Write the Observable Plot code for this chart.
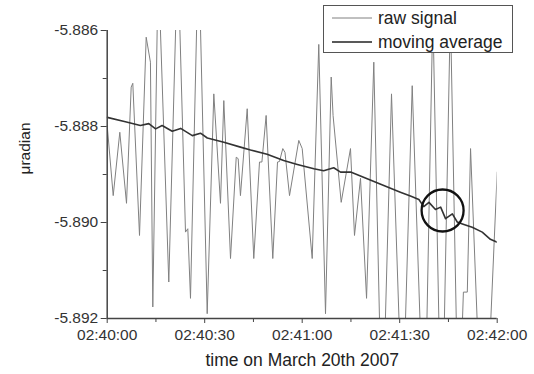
<!DOCTYPE html>
<html>
<head>
<meta charset="utf-8">
<script src="https://cdn.jsdelivr.net/npm/d3@7"></script>
<script src="https://cdn.jsdelivr.net/npm/@observablehq/plot@0.6"></script>
<style>
  body { margin: 0; background: white; }
  #wrap { position: relative; width: 534px; height: 374px; font-family: 'Liberation Sans', Arial, sans-serif; }
  #legend { position: absolute; left: 323px; top: 5px; width: 190px; height: 48px; box-sizing: border-box;
            border: 1px solid #555; background: white; font-size: 17.5px; color: #222; }
  .row { position: absolute; left: 0; height: 24px; display: flex; align-items: center; white-space: nowrap; }
  .row svg { margin-left: 8px; margin-right: 6px; }
</style>
</head>
<body>
<div id="wrap"></div>
<script>
// seconds after 02:40:00
const rawTime = [0,1.85,3.88,5.94,7.38,7.88,9.94,12.0,13.3,14.03,15.7,18.95,21.7,24.09,24.8,25.63,28.1,30.77,32.8,34.86,35.88,37.94,39.7,40.3,41.0,43.08,45.1,46.86,47.6,48.9,50.95,52.4,53.0,54.03,54.7,56.1,58.95,60.0,63.08,65.1,67.17,68.92,69.5,72.0,74.86,76.09,77.94,79.8,82.03,84.6,87.48,90.86,93.85,97.6,100.2,102.9,105.6,108.1,109.6,110.8,111.8,115.8,120.0];
const rawValue = [-5.88798,-5.88944,-5.88812,-5.88960,-5.88718,-5.88710,-5.89027,-5.88614,-5.88666,-5.89176,-5.8846,-5.89124,-5.88435,-5.8902,-5.89013,-5.89158,-5.8842,-5.8919,-5.88732,-5.8896,-5.88746,-5.89075,-5.88864,-5.88867,-5.88944,-5.88763,-5.89075,-5.88874,-5.88874,-5.88777,-5.89075,-5.88874,-5.88873,-5.88846,-5.88854,-5.88944,-5.88829,-5.88846,-5.89075,-5.88629,-5.8919,-5.88697,-5.88777,-5.88958,-5.88846,-5.89027,-5.88908,-5.89158,-5.88666,-5.8945,-5.88732,-5.8942,-5.88715,-5.8948,-5.8856,-5.8950,-5.8856,-5.8945,-5.89145,-5.89145,-5.88846,-5.8955,-5.88895];

const maTime = [0,5.6,10.2,12.8,14.9,16.9,20.0,22.6,26.2,28.7,30.8,35.9,41.0,44.1,49.2,54.3,58.5,63.6,66.6,69.7,71.8,74.9,80.0,85.1,90.2,93.3,95.9,97.4,99.0,101.0,102.6,104.1,106.2,107.7,109.3,112.3,115.4,117.9,120.0];
const maValue = [-5.88781,-5.88790,-5.88798,-5.88794,-5.88805,-5.88798,-5.88810,-5.88804,-5.88819,-5.88814,-5.88824,-5.88833,-5.88843,-5.88849,-5.88858,-5.88871,-5.88879,-5.88888,-5.88892,-5.88886,-5.88895,-5.88895,-5.88909,-5.88923,-5.88937,-5.88945,-5.88952,-5.88967,-5.88958,-5.88973,-5.88968,-5.88992,-5.88982,-5.88999,-5.89003,-5.89010,-5.89020,-5.89035,-5.89041];

const circleTime = [103.2];
const circleValue = [-5.88975];

const xMajor = [0, 30, 60, 90, 120];
const xLabels = ["02:40:00", "02:40:30", "02:41:00", "02:41:30", "02:42:00"];
const xMinor = [15, 45, 75, 105];
const yMajor = [-5.892, -5.890, -5.888, -5.886];
const yLabels = ["-5.892", "-5.890", "-5.888", "-5.886"];
const yMinor = [-5.891, -5.889, -5.887];

const xTitle = "time on March 20th 2007";
const yTitle = "\u03bcradian";
const seriesNames = ["raw signal", "moving average"];

const raw = rawTime.map((t, i) => ({t, v: rawValue[i]}));
const ma = maTime.map((t, i) => ({t, v: maValue[i]}));
const circ = circleTime.map((t, i) => ({t, v: circleValue[i]}));

const chart = Plot.plot({
  width: 534,
  height: 374,
  marginLeft: 106.7,
  marginRight: 37.3,
  marginTop: 30,
  marginBottom: 56,
  style: {fontFamily: "'Liberation Sans', Arial, sans-serif", fontSize: "15.5px", color: "#333", background: "white"},
  x: {domain: [0, 120]},
  y: {domain: [-5.892, -5.886]},
  marks: [
    Plot.line(raw, {x: "t", y: "v", stroke: "#808080", strokeWidth: 1, clip: true}),
    Plot.line(ma, {x: "t", y: "v", stroke: "#333", strokeWidth: 1.6, clip: true}),
    Plot.dot(circ, {x: "t", y: "v", r: 21, stroke: "#111", strokeWidth: 2.3, fill: "none"}),
    Plot.axisX(xMajor, {tickFormat: d => xLabels[xMajor.indexOf(d)], tickSize: 5, tickPadding: 5, label: null, stroke: "#444", fill: "#333"}),
    Plot.axisX(xMinor, {tickFormat: () => "", tickSize: 4, label: null, stroke: "#444"}),
    Plot.axisY(yMajor, {tickFormat: d => yLabels[yMajor.indexOf(d)], tickSize: 6, tickPadding: 3, label: null, stroke: "#444", fill: "#333"}),
    Plot.axisY(yMinor, {tickFormat: () => "", tickSize: 4, label: null, stroke: "#444"}),
    Plot.ruleX([0], {stroke: "#444", strokeWidth: 1.5}),
    Plot.ruleY([-5.892], {stroke: "#444", strokeWidth: 1.5}),
    Plot.text([xTitle], {text: d => d, frameAnchor: "bottom", dy: 47, fontSize: 17.5, fill: "#222"}),
    Plot.text([yTitle], {text: d => d, frameAnchor: "left", dx: -82, rotate: -90, fontSize: 15.5, fill: "#222"})
  ]
});

const wrap = document.getElementById("wrap");
wrap.appendChild(chart);

const legend = document.createElement("div");
legend.id = "legend";
const colors = ["#808080", "#222"];
const widths = [1, 1.6];
seriesNames.forEach((name, i) => {
  const row = document.createElement("div");
  row.className = "row";
  row.style.top = (i * 24) + "px";
  row.innerHTML = `<svg width="40" height="4"><line x1="0" x2="40" y1="2" y2="2" stroke="${colors[i]}" stroke-width="${widths[i]}"/></svg><span>${name}</span>`;
  legend.appendChild(row);
});
wrap.appendChild(legend);
</script>
</body>
</html>
